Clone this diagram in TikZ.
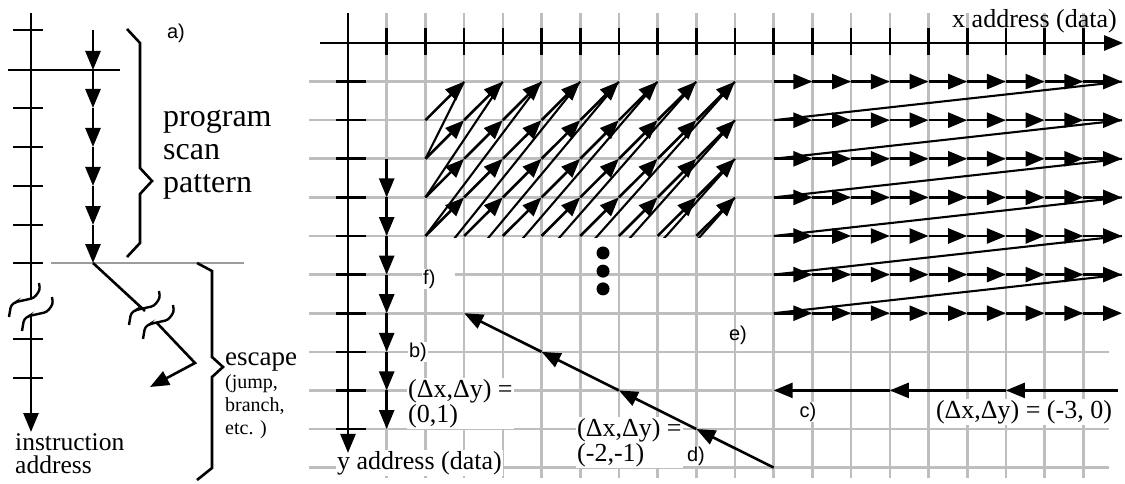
\documentclass[tikz,border=0pt]{standalone}
\usepackage{fontspec}
\setmainfont{Liberation Serif}
\setsansfont{Liberation Sans}
\usetikzlibrary{arrows.meta,positioning,calc}
\definecolor{gridgray}{HTML}{BEBEBE}
\definecolor{rulegray}{HTML}{9C9C9C}
\newcommand\brkpiece[1]{\draw[line width=2.4pt, rounded corners=3pt] #1 -- ++(1,7) -- ++(-6,8) -- ++(-18,4) -- ++(-5,3) -- ++(-2,12);}

\begin{document}
\begin{tikzpicture}[x=1pt,y=-1pt,>={Triangle[length=19pt,width=15pt]}]
\tikzset{ln/.style={line width=2.6pt}, arr/.style={->, ln}, grd/.style={draw=gridgray, line width=2.6pt}, ret/.style={line width=2.1pt}, txt/.style={font=\fontsize{26}{25}\selectfont, inner sep=1pt}, sf/.style={font=\sffamily\fontsize{20}{22}\selectfont, inner sep=1pt}, bg/.style={fill=white}}
\useasboundingbox (0,0) rectangle (1125,484);
\begin{scope}[shift={(348,43)}, x=38.7pt, y=-38.6pt]
\foreach \c in {1,...,19} \draw[grd] (\c,-0.78) -- (\c,11.27);
\foreach \r in {1,...,11} \draw[grd] (-1,\r) -- (19.66,\r);
\end{scope}
\node[txt, anchor=base east] (xaddr) at (1118,28) {x address (data)};
\node[txt, bg, anchor=base west] (yaddr) at (336,469) {y address (data)};
\node[sf, bg, anchor=west, text width=31pt] (flab) at (422,279) {f)};
\node[sf, bg] (blab) at (418,352) {b)};
\node[txt, bg, align=left, anchor=north west] (bstep) at (407,378) {(Δx,Δy) =\\(0,1)};
\node[txt, bg, align=left, anchor=north west] (dstep) at (576,417) {(Δx,Δy) =\\(-2,-1)};
\node[sf, bg] (dlab) at (696,456) {d)};
\node[sf, bg] (clab) at (808,412) {c)};
\node[txt, bg, anchor=base] (cstep) at (1024,418) {(Δx,Δy) = (-3, 0)};
\node[sf] (elab) at (738,335) {e)};
\begin{scope}[shift={(348,43)}, x=38.7pt, y=-38.6pt]
\draw[arr] (0,-0.78) -- (0,10.62);
\draw[arr] (-0.72,0) -- (20.03,0);
\foreach \c in {1,...,19} \draw[ln] (\c,-0.4) -- (\c,0.32);
\foreach \r in {1,...,10} \draw[ln] (-0.31,\r) -- (0.47,\r);
\foreach \r in {3,...,9} \draw[arr] (1,\r) -- (1,\r+1);
\begin{scope}
\clip (1.8,-0.5) rectangle (10.5,5.05);
\foreach \s in {4,...,14}{
  \pgfmathtruncatemacro\ra{min(5,\s-2)}
  \pgfmathtruncatemacro\ca{\s-\ra}
  \pgfmathtruncatemacro\ce{min(10,\s-1)}
  \pgfmathtruncatemacro\cb{\ce-1}
  \draw[ret] (\ce,\s-\ce) -- (2,\s-1);
  \foreach \c in {\ca,...,\cb} \draw[arr] (\c,\s-\c) -- (\c+1,\s-\c-1);
}
\end{scope}
\foreach \d in {5.44,5.91,6.37} \fill (6.59,\d) circle (6.5pt);
\foreach \r in {1,...,7} \foreach \c in {11,...,19} \draw[arr] (\c,\r) -- (\c+1,\r);
\foreach \r in {1,...,6} \draw[ret] (20,\r) -- (11,\r+1);
\draw[arr] (19.9,9) -- (17,9); \draw[arr] (17,9) -- (14,9); \draw[arr] (14,9) -- (11,9);
\foreach \c/\r in {11/11,9/10,7/9,5/8} \draw[arr] (\c,\r) -- ++(-2,-1);
\end{scope}
\node[sf] (alab) at (176,33) {a)};
\node[font=\fontsize{32}{33}\selectfont, inner sep=0pt, align=left, anchor=north west] (scan) at (163,110) {program\\scan\\pattern};
\node[font=\fontsize{27}{28}\selectfont, inner sep=0pt, anchor=base west] (esc) at (225,365) {escape};
\node[font=\fontsize{20}{23}\selectfont, inner sep=0pt, align=left, anchor=north west] (jmp) at (225,374) {(jump,\\branch,\\etc. )};
\node[font=\fontsize{25.5}{23}\selectfont, inner sep=0pt, align=left, anchor=north west] (iaddr) at (15,433) {instruction\\address};
\draw[ln] (31,13) -- (31,298);
\draw[arr] (31,316) -- (31,432);
\foreach \t in {30,108,147,186,225,263,339,378} \draw[ln] (13,\t) -- (43,\t);
\draw[ln] (8,70) -- (120,70);
\draw[draw=rulegray, line width=2.6pt] (51,263) -- (244,263);
\foreach \a/\b in {30/70,70/108,108/147,147/186,186/225,225/263} \draw[arr] (93,\a) -- (93,\b);
\draw[ln] (93,263) -- (145,311);
\draw[arr] (157,323) -- (195,363) -- (150,387);
\brkpiece{(39,283)} \brkpiece{(52,297)}
\brkpiece{(159,291)} \brkpiece{(173,305)}
\draw[ln] (127,29) -- (140,43) -- (140,168) -- (152,181) -- (140,194) -- (140,243) -- (127,257);
\draw[ln] (197,263) -- (212,271) -- (212,357) -- (223,367) -- (212,377) -- (212,468) -- (197,480);
\end{tikzpicture}
\end{document}
